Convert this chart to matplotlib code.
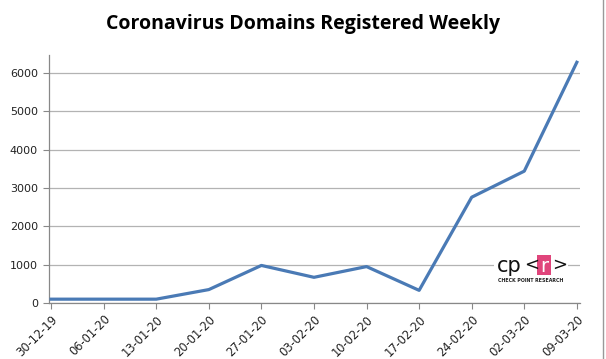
import numpy as np
import matplotlib
matplotlib.use("Agg")
import matplotlib.pyplot as plt
from matplotlib.lines import Line2D
from matplotlib.patches import Rectangle

weeks = ["30-12-19", "06-01-20", "13-01-20", "20-01-20", "27-01-20", "03-02-20",
         "10-02-20", "17-02-20", "24-02-20", "02-03-20", "09-03-20"]
domains = [100, 100, 100, 350, 980, 670, 950, 330, 2760, 3440, 6280]
yticks = [0, 1000, 2000, 3000, 4000, 5000, 6000]

line_color = "#4a7ab5"
grid_color = "#b3b3b3"

W, H = 606, 359
fig = plt.figure(figsize=(W / 100, H / 100), dpi=100)
ax = fig.add_axes([49 / W, 1 - 303 / H, (580 - 49) / W, (303 - 55) / H])

x = np.arange(len(weeks))
ax.plot(x, domains, color=line_color, linewidth=2.3, solid_joinstyle="round", zorder=3)

ax.set_xlim(-0.04, 10.06)
ax.set_ylim(0, 6470)
ax.set_yticks(yticks)
ax.set_yticklabels([str(v) for v in yticks], fontsize=8, color="#222222", family="DejaVu Sans")
ax.set_xticks(x)
ax.set_xticklabels(weeks, rotation=45, ha="right", va="top", fontsize=8.3,
                   color="#222222", rotation_mode="anchor")
ax.tick_params(axis="x", length=4, color="#888888", pad=3)
ax.tick_params(axis="y", length=4, color="#888888", pad=4)
ax.grid(axis="y", color=grid_color, linewidth=0.9, zorder=0)

for s in ["top", "right"]:
    ax.spines[s].set_visible(False)
for s in ["left", "bottom"]:
    ax.spines[s].set_color("#888888")
    ax.spines[s].set_linewidth(0.9)

fig.text(0.5, 1 - 24 / H, "Coronavirus Domains Registered Weekly", ha="center", va="center",
         fontsize=14, fontweight="bold", family="Open Sans")

# logo (white backing interrupts the gridline)
fig.add_artist(Rectangle((494 / W, 1 - 289 / H), 74 / W, 38 / H, facecolor="white",
                         edgecolor="none", transform=fig.transFigure, zorder=4))
fig.text(497 / W, 1 - 266 / H, "cp", ha="left", va="center", fontsize=15,
         family="DejaVu Sans", color="#111111", zorder=5)
fig.text(524 / W, 1 - 265 / H, "<", ha="left", va="center", fontsize=13,
         family="DejaVu Sans", color="#111111", zorder=5)
fig.add_artist(Rectangle((537 / W, 1 - 275 / H), 14 / W, 20 / H, facecolor="#e0457b",
                         edgecolor="none", transform=fig.transFigure, zorder=5))
fig.text(544 / W, 1 - 266 / H, "r", ha="center", va="center", fontsize=14,
         family="DejaVu Sans", color="white", zorder=6)
fig.text(552 / W, 1 - 265 / H, ">", ha="left", va="center", fontsize=13,
         family="DejaVu Sans", color="#111111", zorder=5)
fig.text(531 / W, 1 - 281 / H, "CHECK POINT RESEARCH", ha="center", va="center",
         fontsize=3.4, fontweight="bold", color="#222222", zorder=5)

fig.add_artist(Line2D([603 / W, 603 / W], [0, 1], color="#999999", linewidth=1))

fig.savefig("out.png", dpi=100)
